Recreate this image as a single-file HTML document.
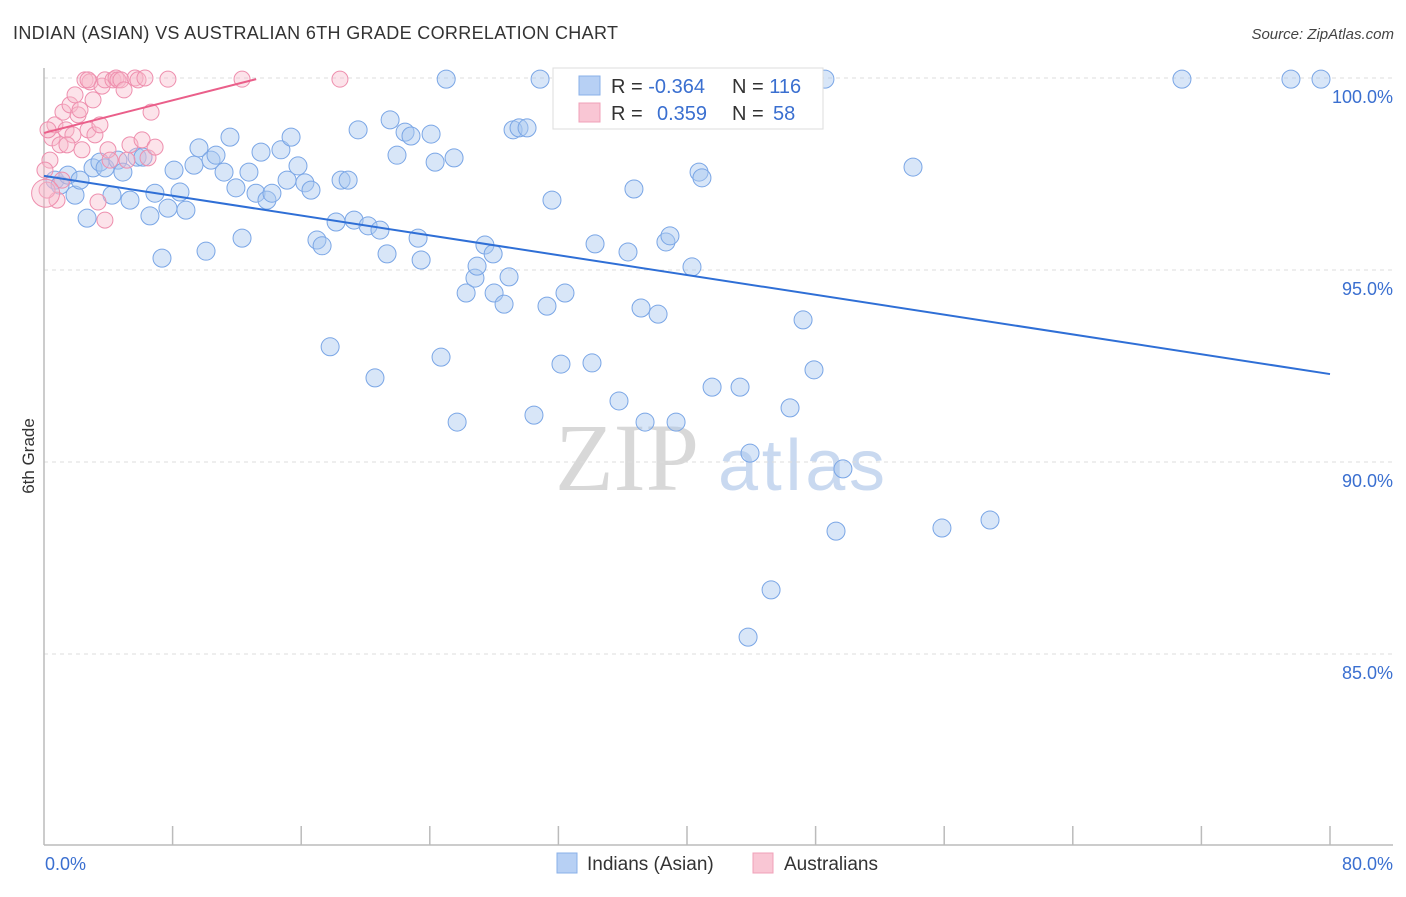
<!DOCTYPE html>
<html><head><meta charset="utf-8"><style>
body{margin:0;background:#fff;width:1406px;height:892px;overflow:hidden;font-family:"Liberation Sans",sans-serif}
</style></head><body>
<svg id="chart" width="1406" height="892" xmlns="http://www.w3.org/2000/svg" font-family="Liberation Sans, sans-serif">
<text x="13" y="39" font-size="18" fill="#333" textLength="605">INDIAN (ASIAN) VS AUSTRALIAN 6TH GRADE CORRELATION CHART</text>
<text x="1394" y="39" font-size="15" fill="#444" text-anchor="end" font-style="italic">Source: ZipAtlas.com</text>
<text transform="translate(34,456) rotate(-90)" font-size="17" fill="#333" text-anchor="middle">6th Grade</text>
<g>
<text x="555" y="490" font-size="96" fill="#d8d8d8" font-family="Liberation Serif, serif">ZIP</text>
<text x="718" y="490" font-size="72" fill="#c9d9f0" textLength="167">atlas</text>
</g>
<g id="grid"></g>
<g id="axes"></g>
<g id="pts"></g>
<g id="lines"></g>
<g>
<rect x="553" y="68" width="270" height="61" fill="#fff" stroke="#ddd"/>
<rect x="579" y="76" width="21" height="19" fill="#b7d0f4" stroke="#8ab0e8"/>
<rect x="579" y="103" width="21" height="19" fill="#f9c6d4" stroke="#f0a0b8"/>
<text x="611" y="93" font-size="20" fill="#333">R = <tspan fill="#3a6fd0">-0.364</tspan></text>
<text x="732" y="93" font-size="20" fill="#333">N = <tspan fill="#3a6fd0">116</tspan></text>
<text x="611" y="120" font-size="20" fill="#333">R = <tspan fill="#3a6fd0" x="657">0.359</tspan></text>
<text x="732" y="120" font-size="20" fill="#333">N = <tspan fill="#3a6fd0" x="773">58</tspan></text>
</g>
<g>
<rect x="557" y="853" width="20" height="20" fill="#b7d0f4" stroke="#8ab0e8"/>
<text x="587" y="870" font-size="19" fill="#333">Indians (Asian)</text>
<rect x="753" y="853" width="20" height="20" fill="#f9c6d4" stroke="#f0a0b8"/>
<text x="784" y="870" font-size="19" fill="#333">Australians</text>
</g>
</svg>
<script>
const yTicks=[100,95,90,85];
const yTickLabels=["100.0%","95.0%","90.0%","85.0%"];
const xTickLabels=["0.0%","80.0%"];
const blueX=[.68,1.0,1.49,1.93,2.24,2.68,3.05,3.48,3.8,4.23,4.6,4.91,5.35,5.79,6.16,6.59,6.9,7.34,7.71,8.09,8.46,8.83,9.33,9.64,10.08,10.39,10.7,11.2,11.57,11.94,12.32,12.75,13.19,13.5,13.87,14.18,14.74,15.12,15.37,15.8,16.23,16.61,16.98,17.3,17.8,18.17,18.48,18.92,19.29,19.54,20.16,20.59,20.9,21.34,21.53,21.96,22.46,22.83,23.27,23.46,24.08,24.33,24.7,25.02,25.51,25.7,26.26,26.81,26.94,27.43,28.0,27.94,28.62,28.93,29.18,29.55,30.05,30.48,30.86,31.29,31.6,32.16,32.41,34.09,34.28,35.77,36.33,36.7,37.14,37.39,38.2,38.69,38.94,39.32,40.31,40.75,40.93,41.56,43.3,43.92,43.8,45.23,46.41,47.22,47.9,48.58,49.27,49.7,54.06,55.86,58.85,70.79,77.57,79.44];
const blueY=[97.34,97.21,97.47,96.95,97.34,96.35,97.66,97.81,97.66,96.95,97.86,97.55,96.82,97.94,97.94,96.41,97.0,95.31,96.61,97.6,97.03,96.56,97.73,98.18,95.49,97.86,97.99,97.55,98.46,97.14,95.83,97.55,97.0,98.07,96.82,97.0,98.13,97.34,98.46,97.71,97.27,97.08,95.78,95.63,93.0,96.25,97.34,97.34,96.3,98.65,96.15,92.19,96.04,95.42,98.91,97.99,98.59,98.49,95.83,95.26,98.54,97.81,92.73,99.97,97.92,91.04,94.4,94.79,95.1,95.65,94.4,95.42,94.11,94.82,98.65,98.7,98.7,91.22,99.97,94.06,96.82,92.55,94.4,92.58,95.68,91.59,95.47,97.11,94.01,91.04,93.85,95.73,95.89,91.04,95.08,97.55,97.4,91.95,91.95,90.23,85.44,86.67,91.41,93.7,92.4,99.97,88.2,89.82,97.68,88.28,88.49,99.97,99.97,99.97];
const pinkX=[.37,.5,.68,.81,1.0,1.18,1.37,1.62,1.8,1.93,2.12,2.36,2.55,2.74,2.86,3.05,3.17,3.36,3.48,3.61,3.79,3.98,4.11,4.29,4.48,4.6,4.79,4.98,5.16,5.35,5.66,5.85,6.1,6.28,6.47,6.66,6.91,7.71,12.32,18.41,.19,.06,.25,3.79,1.12,1.43,2.74,2.24,0.1];
const pinkY=[97.86,98.44,98.78,96.82,98.26,99.11,98.65,99.3,98.52,99.56,99.04,98.13,99.95,98.65,99.9,99.43,98.52,96.77,98.78,99.79,99.95,98.13,97.86,99.95,100,99.95,99.95,99.69,97.86,98.26,100,99.95,98.39,100,97.92,99.11,98.2,99.97,99.97,99.97,97.08,97.6,98.65,96.3,97.34,98.26,99.95,99.17,97.0];
const blueLine=[[0,97.45],[80,92.29]];
const pinkLine=[[0,98.57],[13.2,99.97]];
const X0=44,X1=1330,Y100=78,PXPER=38.4;
const sx=v=>X0+(X1-X0)*v/80, sy=v=>Y100+(100-v)*PXPER;
const NS="http://www.w3.org/2000/svg";
function mk(t,a,p){const e=document.createElementNS(NS,t);for(const k in a)e.setAttribute(k,a[k]);p.appendChild(e);return e;}
const grid=document.getElementById('grid'),axes=document.getElementById('axes'),pts=document.getElementById('pts'),lines=document.getElementById('lines');
yTicks.forEach((t,i)=>{
 const l=mk('line',{x1:X0,x2:1393,y1:sy(t),y2:sy(t),stroke:'#ddd','stroke-dasharray':'4,4'},grid);
 
 
 const tx=mk('text',{x:1393,y:sy(t)+25,'font-size':18,fill:'#3a6fd0','text-anchor':'end'},axes);
 tx.textContent=yTickLabels[i];
 
 
});
const ya=mk('line',{x1:X0,x2:X0,y1:68,y2:845,stroke:'#bbb','stroke-width':1.5},axes);


const xa=mk('line',{x1:X0,x2:1393,y1:845,y2:845,stroke:'#bbb','stroke-width':1.5},axes);


for(let i=1;i<=10;i++){
 const t=mk('line',{x1:sx(i*8),x2:sx(i*8),y1:826,y2:845,stroke:'#bbb','stroke-width':1.5},axes);
 
 
}
[[0,'start',45],[80,'end',1393]].forEach((d,i)=>{
 const t=mk('text',{x:d[2],y:870,'font-size':18,fill:'#3a6fd0','text-anchor':d[1]},axes);
 t.textContent=xTickLabels[i];
 
 
});
blueX.forEach((v,i)=>{
 const c=mk('circle',{cx:sx(v),cy:sy(blueY[i]),r:9,fill:'#a9c8f0','fill-opacity':0.45,stroke:'#7aa6e6','stroke-width':1},pts);
 
 
});
pinkX.forEach((v,i)=>{
 const c=mk('circle',{cx:sx(v),cy:sy(pinkY[i]),r:i==pinkX.length-1?14:8,fill:'#f7b8cb','fill-opacity':0.4,stroke:'#ee8fae','stroke-width':1},pts);
 
 
});
const bl=mk('line',{x1:sx(blueLine[0][0]),y1:sy(blueLine[0][1]),x2:sx(blueLine[1][0]),y2:sy(blueLine[1][1]),stroke:'#2f6fd6','stroke-width':2},lines);


const pl=mk('line',{x1:sx(pinkLine[0][0]),y1:sy(pinkLine[0][1]),x2:sx(pinkLine[1][0]),y2:sy(pinkLine[1][1]),stroke:'#ea5f8a','stroke-width':2},lines);


</script>
</body></html>
